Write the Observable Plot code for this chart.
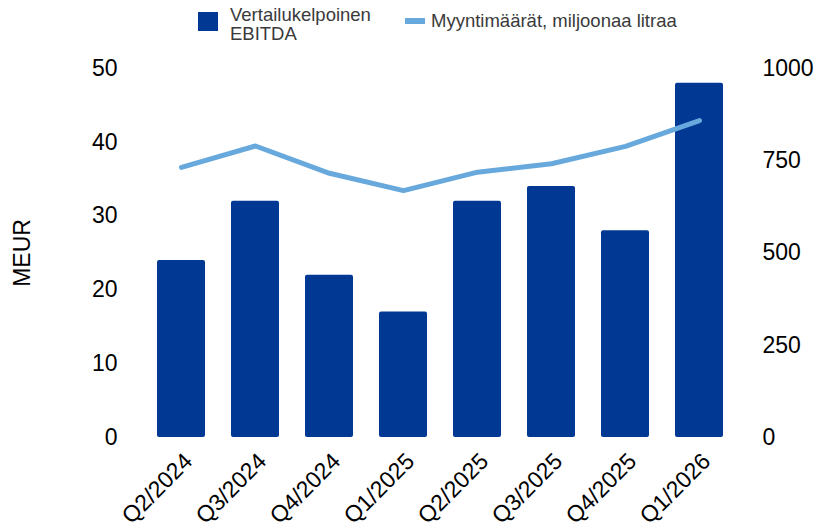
<!DOCTYPE html>
<html>
<head>
<meta charset="utf-8">
<script src="https://cdn.jsdelivr.net/npm/d3@7"></script>
<script src="https://cdn.jsdelivr.net/npm/@observablehq/plot@0.6"></script>
<style>
  body { margin: 0; background: #fff; font-family: "Liberation Sans", Arial, sans-serif; }
  #legend { position: relative; width: 819px; height: 45px; color: #3a3a3a; font-size: 18.5px; }
  #legend .sw1 { position: absolute; left: 198px; top: 12px; width: 20px; height: 19px; background: #003893; }
  #legend .t1 { position: absolute; left: 230px; top: 5px; line-height: 19px; }
  #legend .sw2 { position: absolute; left: 405px; top: 18px; width: 20px; height: 6px; background: #67a9dd; }
  #legend .t2 { position: absolute; left: 431px; top: 11px; line-height: 19px; }
</style>
</head>
<body>
<div id="legend">
  <div class="sw1"></div><div class="t1">Vertailukelpoinen<br>EBITDA</div>
  <div class="sw2"></div><div class="t2">Myyntimäärät, miljoonaa litraa</div>
</div>
<div id="chart"></div>
<script>
const quarters = ["Q2/2024","Q3/2024","Q4/2024","Q1/2025","Q2/2025","Q3/2025","Q4/2025","Q1/2026"];
const ebitda = [24, 32, 22, 17, 32, 34, 28, 48];
const volume = [732, 790, 716, 669, 719, 742, 789, 859];
const leftTicks = [0, 10, 20, 30, 40, 50];
const rightTicks = [0, 250, 500, 750, 1000];

const leftMax = 50, rightMax = 1000;
const toLeft = v => v * leftMax / rightMax;

const data = quarters.map((q, i) => ({q, ebitda: ebitda[i], volume: volume[i]}));

const chart = Plot.plot({
  width: 819,
  height: 487,
  marginTop: 23,
  marginBottom: 95,
  marginLeft: 144,
  marginRight: 83,
  style: {fontFamily: "'Liberation Sans', Arial, sans-serif", fontSize: "23px", color: "#000", background: "#fff"},
  x: {domain: quarters, paddingInner: 0.35, paddingOuter: 0.175},
  y: {domain: [0, leftMax]},
  marks: [
    Plot.barY(data, {x: "q", y: "ebitda", fill: "#003893", rx: 2}),
    Plot.lineY(data, {x: "q", y: d => toLeft(d.volume), stroke: "#67a9dd", strokeWidth: 5}),
    Plot.axisX({tickRotate: -45, tickSize: 0, tickPadding: 18, dx: 7, dy: 2, fontSize: 23, label: null}),
    Plot.axisY({anchor: "left", ticks: leftTicks, tickSize: 0, tickPadding: 27, label: "MEUR", labelAnchor: "center", labelArrow: "none", labelOffset: 131, fontSize: 23}),
    Plot.axisY({anchor: "right", ticks: rightTicks.map(toLeft), tickFormat: d => String(Math.round(d * rightMax / leftMax)), tickSize: 0, tickPadding: 26, label: null, fontSize: 23})
  ]
});
document.getElementById("chart").appendChild(chart);
</script>
</body>
</html>
